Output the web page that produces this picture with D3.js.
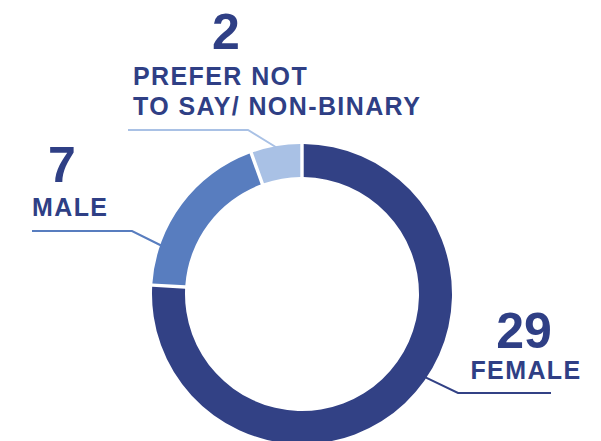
<!DOCTYPE html>
<html>
<head>
<meta charset="utf-8">
<script src="https://cdn.jsdelivr.net/npm/d3@7"></script>
<style>
  body { margin: 0; background: #fff; }
  svg text { font-family: "Liberation Sans", Arial, sans-serif; font-weight: bold; fill: #2f3f85; }
</style>
</head>
<body>
<svg id="chart"></svg>
<script>
const categories = ["FEMALE", "MALE", "PREFER NOT\nTO SAY/ NON-BINARY"];
const values = [29, 7, 2];
const colors = ["#324185", "#587dbf", "#a9c1e5"];

const width = 601, height = 441;
const cx = 302, cy = 294;
const outerR = 150, innerR = 117;

const svg = d3.select("#chart").attr("width", width).attr("height", height);
const g = svg.append("g").attr("transform", `translate(${cx},${cy})`);

const data = categories.map((c, i) => ({ name: c, value: values[i], color: colors[i] }));

const pie = d3.pie().value(d => d.value).sort(null).padAngle(0.018);
const arc = d3.arc().innerRadius(innerR).outerRadius(outerR);

g.selectAll("path")
  .data(pie(data))
  .enter()
  .append("path")
  .attr("d", arc)
  .attr("fill", d => d.data.color);

// label layout: anchor angle on ring (deg), elbow, line end, text position
const labels = [
  { i: 0, angle: 124, elbow: [458, 393], end: [551, 393], num: [524, 348], text: [526, 379], anchor: "middle" },
  { i: 1, angle: 289, elbow: [132, 231], end: [32, 231], num: [62, 182], text: [32, 216], anchor: "start" },
  { i: 2, angle: 350, elbow: [248, 130], end: [128, 130], num: [226, 49], text: [133, 85], anchor: "start" }
];

labels.forEach(l => {
  const a = l.angle * Math.PI / 180;
  const p = [cx + (outerR - 1) * Math.sin(a), cy - (outerR - 1) * Math.cos(a)];
  svg.append("polyline")
    .attr("points", [p, l.elbow, l.end].map(q => q.join(",")).join(" "))
    .attr("fill", "none")
    .attr("stroke", colors[l.i])
    .attr("stroke-width", 2);

  svg.append("text")
    .attr("x", l.num[0]).attr("y", l.num[1])
    .attr("text-anchor", "middle")
    .style("font-size", "50px")
    .text(values[l.i]);

  const lines = categories[l.i].split("\n");
  lines.forEach((t, k) => {
    svg.append("text")
      .attr("x", l.text[0]).attr("y", l.text[1] + k * 30)
      .attr("text-anchor", l.anchor)
      .style("font-size", "25px")
      .style("letter-spacing", "1.4px")
      .text(t);
  });
});
</script>
</body>
</html>
